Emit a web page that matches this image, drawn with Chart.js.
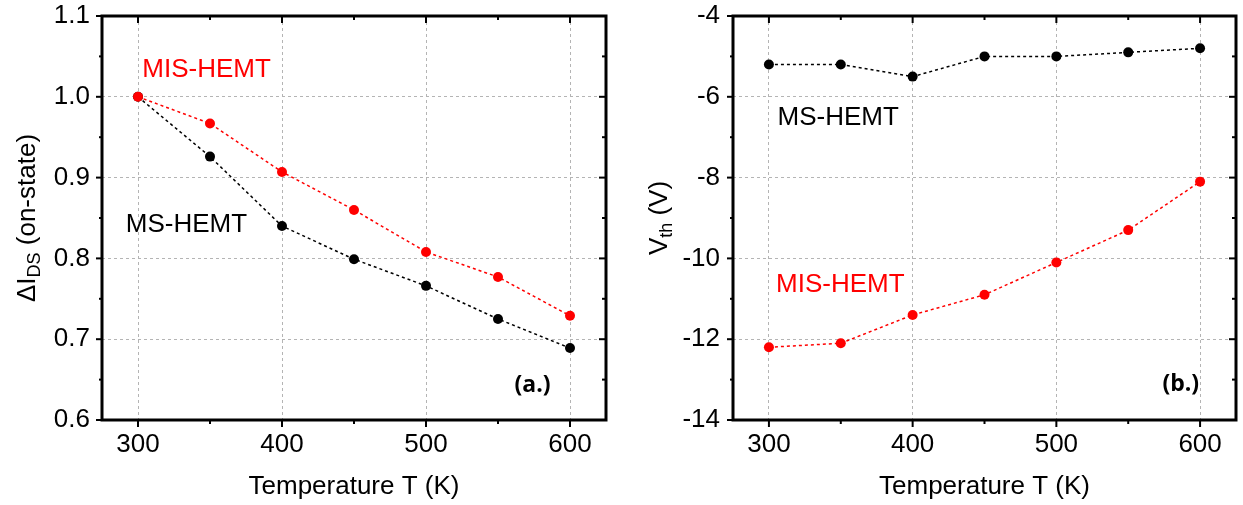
<!DOCTYPE html>
<html>
<head>
<meta charset="utf-8">
<script src="https://cdn.jsdelivr.net/npm/chart.js@4/dist/chart.umd.min.js"></script>
<style>
  html, body { margin: 0; padding: 0; background: #fff; }
  #wrap { position: relative; width: 1243px; height: 505px; }
  .panel { position: absolute; top: 0; }
</style>
</head>
<body>
<div id="wrap">
  <canvas id="chartA" class="panel" style="left:0" width="621" height="505"></canvas>
  <canvas id="chartB" class="panel" style="left:621px" width="622" height="505"></canvas>
</div>
<script>
const temps = [300, 350, 400, 450, 500, 550, 600];

// (a.) normalised on-state drain current
const currentMIS = [1.0, 0.967, 0.907, 0.860, 0.808, 0.777, 0.729];
const currentMS = [1.0, 0.926, 0.840, 0.799, 0.766, 0.725, 0.689];

// (b.) threshold voltage
const vthMS = [-5.2, -5.2, -5.5, -5.0, -5.0, -4.9, -4.8];
const vthMIS = [-12.2, -12.1, -11.4, -10.9, -10.1, -9.3, -8.1];

const tempTicks = [300, 400, 500, 600];
const tempMinor = [350, 450, 550];
const currentTicks = [0.6, 0.7, 0.8, 0.9, 1.0, 1.1];
const currentMinor = [0.65, 0.75, 0.85, 0.95, 1.05];
const vthTicks = [-14, -12, -10, -8, -6, -4];
const vthMinor = [-13, -11, -9, -7, -5];

const FONT = "'Liberation Sans', Arial, sans-serif";
const SIZE = 26;
Chart.defaults.font.family = FONT;
Chart.defaults.color = '#000';

const toPoints = (ys) => temps.map((t, i) => ({ x: t, y: ys[i] }));

const series = (label, ys, color) => ({
  label: label,
  data: toPoints(ys),
  borderColor: color,
  backgroundColor: color,
  borderWidth: 1.5,
  borderDash: [3, 3],
  pointRadius: 5,
  pointHoverRadius: 5,
  pointBorderWidth: 0,
  tension: 0
});

// frame, tick marks, axis title with subscript and the text labels
const framePlugin = {
  id: 'frame',
  afterDraw(chart, args, o) {
    const { ctx, chartArea: a, scales: { x, y } } = chart;
    const line = (x1, y1, x2, y2) => {
      ctx.beginPath(); ctx.moveTo(x1, y1); ctx.lineTo(x2, y2); ctx.stroke();
    };
    ctx.save();
    ctx.strokeStyle = '#000';
    ctx.lineWidth = 2;
    o.xMajor.forEach(v => {
      const px = x.getPixelForValue(v);
      line(px, a.bottom, px, a.bottom + 7);
      line(px, a.top, px, a.top + 7);
    });
    o.xMinor.forEach(v => {
      const px = x.getPixelForValue(v);
      line(px, a.bottom, px, a.bottom + 4);
      line(px, a.top, px, a.top + 4);
    });
    o.yMajor.forEach(v => {
      const py = y.getPixelForValue(v);
      line(a.left - 6, py, a.left, py);
      line(a.right - 7, py, a.right, py);
    });
    o.yMinor.forEach(v => {
      const py = y.getPixelForValue(v);
      line(a.left - 3, py, a.left, py);
      line(a.right - 4, py, a.right, py);
    });
    ctx.lineWidth = 3;
    ctx.strokeRect(a.left, a.top, a.right - a.left, a.bottom - a.top);

    // y axis title, rotated, with subscript
    ctx.translate(o.yTitleX, (a.top + a.bottom) / 2);
    ctx.rotate(-Math.PI / 2);
    ctx.fillStyle = '#000';
    ctx.textBaseline = 'middle';
    ctx.textAlign = 'left';
    let total = 0;
    o.yTitle.forEach(p => {
      ctx.font = `${p.size}px ${FONT}`;
      p.w = ctx.measureText(p.t).width;
      total += p.w;
    });
    let cx = -total / 2;
    o.yTitle.forEach(p => {
      ctx.font = `${p.size}px ${FONT}`;
      ctx.fillText(p.t, cx, p.dy || 0);
      cx += p.w;
    });
    ctx.setTransform(1, 0, 0, 1, 0, 0);

    o.notes.forEach(n => {
      ctx.font = `${n.bold ? 'bold ' : ''}${n.size}px ${n.family || FONT}`;
      ctx.fillStyle = n.color;
      ctx.textAlign = 'left';
      ctx.textBaseline = 'middle';
      ctx.fillText(n.text, x.getPixelForValue(n.x), y.getPixelForValue(n.y));
    });
    ctx.restore();
  }
};

const makePanel = (id, cfg) => new Chart(document.getElementById(id), {
  type: 'line',
  data: { datasets: cfg.datasets },
  options: {
    responsive: false,
    animation: false,
    layout: { padding: { top: 16, right: cfg.padRight, left: 0, bottom: 0 } },
    plugins: { legend: { display: false }, tooltip: { enabled: false }, frame: cfg.frame },
    scales: {
      x: {
        type: 'linear',
        min: 275, max: 625,
        afterBuildTicks: s => { s.ticks = tempTicks.map(v => ({ value: v })); },
        afterFit: s => { s.height = 85; s.paddingLeft = 0; s.paddingRight = 0; },
        grid: { color: '#b4b4b4', lineWidth: 1, drawTicks: false },
        border: { display: false, dash: [3, 3] },
        ticks: { padding: 9, font: { size: SIZE }, color: '#000' },
        title: {
          display: true, text: 'Temperature T (K)', color: '#000',
          font: { size: SIZE }, padding: { top: 0, bottom: 3 }
        }
      },
      y: {
        type: 'linear',
        min: cfg.yMin, max: cfg.yMax,
        afterBuildTicks: s => { s.ticks = cfg.yTicks.map(v => ({ value: v })); },
        afterFit: s => { s.width = cfg.yWidth; s.paddingTop = 0; s.paddingBottom = 0; },
        grid: { color: '#b4b4b4', lineWidth: 1, drawTicks: false },
        border: { display: false, dash: [3, 3] },
        ticks: { padding: cfg.yPad, font: { size: SIZE }, color: '#000', callback: cfg.fmt }
      }
    }
  },
  plugins: [framePlugin]
});

makePanel('chartA', {
  datasets: [series('MIS-HEMT', currentMIS, '#ff0000'), series('MS-HEMT', currentMS, '#000000')],
  yMin: 0.6, yMax: 1.1, yTicks: currentTicks, yWidth: 102, yPad: 12, padRight: 15,
  fmt: v => v.toFixed(1),
  frame: {
    xMajor: tempTicks, xMinor: tempMinor, yMajor: currentTicks, yMinor: currentMinor,
    yTitleX: 28,
    yTitle: [{ t: '\u0394I', size: SIZE }, { t: 'DS', size: 18, dy: 7 }, { t: ' (on-state)', size: SIZE }],
    notes: [
      { text: 'MIS-HEMT', x: 303, y: 1.033, color: '#ff0000', size: SIZE },
      { text: 'MS-HEMT', x: 291.5, y: 0.841, color: '#000000', size: SIZE },
      { text: '(a.)', x: 561.5, y: 0.643, color: '#000000', size: 23, bold: true, family: "'Open Sans', sans-serif" }
    ]
  }
});

makePanel('chartB', {
  datasets: [series('MIS-HEMT', vthMIS, '#ff0000'), series('MS-HEMT', vthMS, '#000000')],
  yMin: -14, yMax: -4, yTicks: vthTicks, yWidth: 112, yPad: 13, padRight: 7,
  fmt: v => String(v),
  frame: {
    xMajor: tempTicks, xMinor: tempMinor, yMajor: vthTicks, yMinor: vthMinor,
    yTitleX: 39,
    yTitle: [{ t: 'V', size: SIZE }, { t: 'th', size: 18, dy: 7 }, { t: ' (V)', size: SIZE }],
    notes: [
      { text: 'MS-HEMT', x: 306, y: -6.52, color: '#000000', size: SIZE },
      { text: 'MIS-HEMT', x: 305, y: -10.66, color: '#ff0000', size: SIZE },
      { text: '(b.)', x: 573.8, y: -13.13, color: '#000000', size: 23, bold: true, family: "'Open Sans', sans-serif" }
    ]
  }
});
</script>
</body>
</html>
